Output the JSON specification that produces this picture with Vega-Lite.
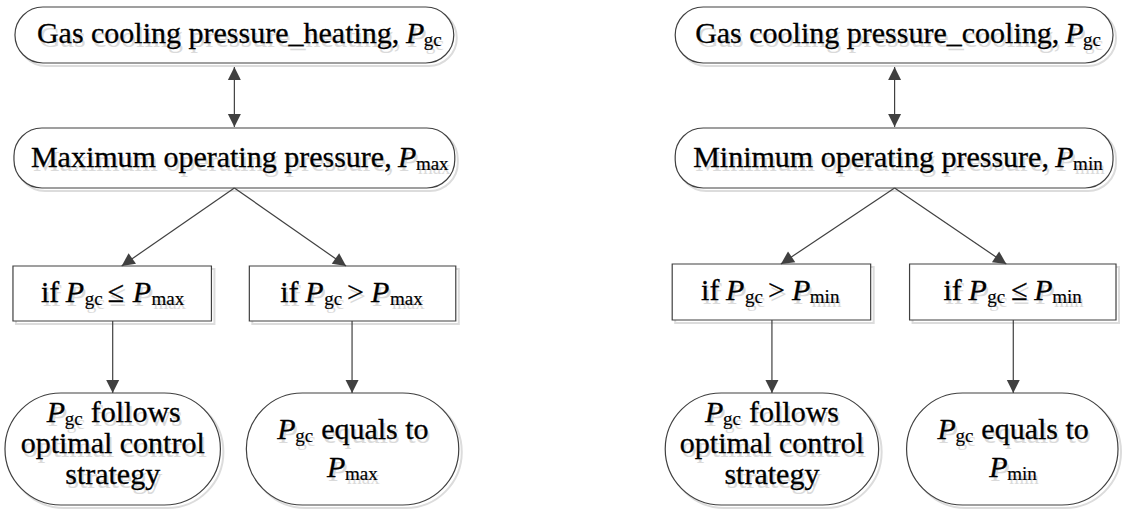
{
  "$schema": "https://vega.github.io/schema/vega-lite/v6.json",
  "width": 1122,
  "height": 509,
  "padding": 0,
  "autosize": {"type": "fit", "contains": "padding"},
  "background": "white",
  "config": {"view": {"stroke": null}},
  "datasets": {
    "shapes": [
      {"k": "pill", "x": 15, "x2": 455, "y": 7, "y2": 63},
      {"k": "pill", "x": 14, "x2": 456, "y": 128, "y2": 188},
      {"k": "box", "x": 13, "x2": 212, "y": 266, "y2": 321},
      {"k": "box", "x": 250, "x2": 457, "y": 266, "y2": 321},
      {"k": "stad", "x": 5, "x2": 221, "y": 393, "y2": 505},
      {"k": "stad", "x": 247, "x2": 460, "y": 393, "y2": 505},
      {"k": "pill", "x": 677, "x2": 1116, "y": 7, "y2": 63},
      {"k": "pill", "x": 677, "x2": 1116, "y": 128, "y2": 188},
      {"k": "box", "x": 674, "x2": 873, "y": 264, "y2": 320},
      {"k": "box", "x": 912, "x2": 1119, "y": 264, "y2": 320},
      {"k": "stad", "x": 667, "x2": 881, "y": 393, "y2": 505},
      {"k": "stad", "x": 909, "x2": 1121, "y": 393, "y2": 505}
    ],
    "links": [
      {"x": 235, "y": 67, "x2": 235, "y2": 127},
      {"x": 235, "y": 188, "x2": 122, "y2": 266},
      {"x": 235, "y": 188, "x2": 347, "y2": 266},
      {"x": 113, "y": 321, "x2": 113, "y2": 393},
      {"x": 353, "y": 321, "x2": 353, "y2": 393},
      {"x": 897, "y": 67, "x2": 897, "y2": 127},
      {"x": 897, "y": 188, "x2": 783, "y2": 264},
      {"x": 897, "y": 188, "x2": 1009, "y2": 264},
      {"x": 774, "y": 320, "x2": 774, "y2": 393},
      {"x": 1016, "y": 320, "x2": 1016, "y2": 393}
    ],
    "heads": [
      {"x": 235, "y": 67, "a": 0},
      {"x": 235, "y": 127, "a": 180},
      {"x": 122, "y": 266, "a": 235},
      {"x": 347, "y": 266, "a": 125},
      {"x": 113, "y": 393, "a": 180},
      {"x": 353, "y": 393, "a": 180},
      {"x": 897, "y": 67, "a": 0},
      {"x": 897, "y": 127, "a": 180},
      {"x": 783, "y": 264, "a": 236},
      {"x": 1009, "y": 264, "a": 124},
      {"x": 774, "y": 393, "a": 180},
      {"x": 1016, "y": 393, "a": 180}
    ],
    "labels": [
      {"k": "n", "x": 37, "y": 43, "t": "Gas cooling pressure_heating,"},
      {"k": "i", "x": 407, "y": 43, "t": "P"},
      {"k": "s", "x": 425, "y": 43, "t": "gc"},
      {"k": "n", "x": 31, "y": 167, "t": "Maximum operating pressure,"},
      {"k": "i", "x": 399, "y": 167, "t": "P"},
      {"k": "s", "x": 417, "y": 167, "t": "max"},
      {"k": "n", "x": 41, "y": 302, "t": "if"},
      {"k": "i", "x": 66, "y": 302, "t": "P"},
      {"k": "s", "x": 85, "y": 302, "t": "gc"},
      {"k": "n", "x": 108, "y": 302, "t": "≤"},
      {"k": "i", "x": 133, "y": 302, "t": "P"},
      {"k": "s", "x": 152, "y": 302, "t": "max"},
      {"k": "n", "x": 281, "y": 302, "t": "if"},
      {"k": "i", "x": 306, "y": 302, "t": "P"},
      {"k": "s", "x": 325, "y": 302, "t": "gc"},
      {"k": "n", "x": 348, "y": 302, "t": ">"},
      {"k": "i", "x": 372, "y": 302, "t": "P"},
      {"k": "s", "x": 391, "y": 302, "t": "max"},
      {"k": "i", "x": 47, "y": 422, "t": "P"},
      {"k": "s", "x": 65, "y": 422, "t": "gc"},
      {"k": "n", "x": 91, "y": 422, "t": "follows"},
      {"k": "c", "x": 113, "y": 453, "t": "optimal control"},
      {"k": "c", "x": 113, "y": 484, "t": "strategy"},
      {"k": "i", "x": 278, "y": 439, "t": "P"},
      {"k": "s", "x": 296, "y": 439, "t": "gc"},
      {"k": "n", "x": 322, "y": 439, "t": "equals to"},
      {"k": "i", "x": 328, "y": 477, "t": "P"},
      {"k": "s", "x": 346, "y": 477, "t": "max"},
      {"k": "n", "x": 697, "y": 43, "t": "Gas cooling pressure_cooling,"},
      {"k": "i", "x": 1068, "y": 43, "t": "P"},
      {"k": "s", "x": 1086, "y": 43, "t": "gc"},
      {"k": "n", "x": 695, "y": 167, "t": "Minimum operating pressure,"},
      {"k": "i", "x": 1058, "y": 167, "t": "P"},
      {"k": "s", "x": 1076, "y": 167, "t": "min"},
      {"k": "n", "x": 703, "y": 300, "t": "if"},
      {"k": "i", "x": 728, "y": 300, "t": "P"},
      {"k": "s", "x": 747, "y": 300, "t": "gc"},
      {"k": "n", "x": 770, "y": 300, "t": ">"},
      {"k": "i", "x": 794, "y": 300, "t": "P"},
      {"k": "s", "x": 812, "y": 300, "t": "min"},
      {"k": "n", "x": 946, "y": 300, "t": "if"},
      {"k": "i", "x": 971, "y": 300, "t": "P"},
      {"k": "s", "x": 990, "y": 300, "t": "gc"},
      {"k": "n", "x": 1014, "y": 300, "t": "≤"},
      {"k": "i", "x": 1037, "y": 300, "t": "P"},
      {"k": "s", "x": 1055, "y": 300, "t": "min"},
      {"k": "i", "x": 707, "y": 422, "t": "P"},
      {"k": "s", "x": 725, "y": 422, "t": "gc"},
      {"k": "n", "x": 751, "y": 422, "t": "follows"},
      {"k": "c", "x": 774, "y": 453, "t": "optimal control"},
      {"k": "c", "x": 774, "y": 484, "t": "strategy"},
      {"k": "i", "x": 940, "y": 439, "t": "P"},
      {"k": "s", "x": 958, "y": 439, "t": "gc"},
      {"k": "n", "x": 984, "y": 439, "t": "equals to"},
      {"k": "i", "x": 992, "y": 477, "t": "P"},
      {"k": "s", "x": 1010, "y": 477, "t": "min"}
    ]
  },
  "encoding": {
    "x": {"field": "x", "type": "quantitative", "scale": {"domain": [0, 1122], "nice": false, "zero": false}, "axis": null},
    "y": {"field": "y", "type": "quantitative", "scale": {"domain": [0, 509], "reverse": true, "nice": false, "zero": false}, "axis": null}
  },
  "layer": [
    {
      "data": {"name": "shapes"},
      "transform": [{"filter": "datum.k == 'box'"}],
      "mark": {"type": "rect", "fill": "white", "stroke": "#dcdcdc", "strokeWidth": 2, "xOffset": 3, "yOffset": 3, "x2Offset": 3, "y2Offset": 3},
      "encoding": {"x2": {"field": "x2"}, "y2": {"field": "y2"}}
    },
    {
      "data": {"name": "shapes"},
      "transform": [{"filter": "datum.k == 'pill'"}],
      "mark": {"type": "rect", "fill": "white", "stroke": "#dcdcdc", "strokeWidth": 2, "cornerRadius": 28, "xOffset": 3, "yOffset": 3, "x2Offset": 3, "y2Offset": 3},
      "encoding": {"x2": {"field": "x2"}, "y2": {"field": "y2"}}
    },
    {
      "data": {"name": "shapes"},
      "transform": [{"filter": "datum.k == 'stad'"}],
      "mark": {"type": "rect", "fill": "white", "stroke": "#dcdcdc", "strokeWidth": 2, "cornerRadius": 56, "xOffset": 3, "yOffset": 3, "x2Offset": 3, "y2Offset": 3},
      "encoding": {"x2": {"field": "x2"}, "y2": {"field": "y2"}}
    },
    {
      "data": {"name": "shapes"},
      "transform": [{"filter": "datum.k == 'box'"}],
      "mark": {"type": "rect", "fill": "white", "stroke": "#404040", "strokeWidth": 1.2},
      "encoding": {"x2": {"field": "x2"}, "y2": {"field": "y2"}}
    },
    {
      "data": {"name": "shapes"},
      "transform": [{"filter": "datum.k == 'pill'"}],
      "mark": {"type": "rect", "fill": "white", "stroke": "#404040", "strokeWidth": 1.2, "cornerRadius": 28},
      "encoding": {"x2": {"field": "x2"}, "y2": {"field": "y2"}}
    },
    {
      "data": {"name": "shapes"},
      "transform": [{"filter": "datum.k == 'stad'"}],
      "mark": {"type": "rect", "fill": "white", "stroke": "#404040", "strokeWidth": 1.2, "cornerRadius": 56},
      "encoding": {"x2": {"field": "x2"}, "y2": {"field": "y2"}}
    },
    {
      "data": {"name": "links"},
      "mark": {"type": "rule", "stroke": "#404040", "strokeWidth": 1.2},
      "encoding": {"x2": {"field": "x2"}, "y2": {"field": "y2"}}
    },
    {
      "data": {"name": "heads"},
      "mark": {"type": "point", "shape": "M0,0L-0.54,1.08L0.54,1.08Z", "size": 576, "filled": true, "fill": "#404040", "strokeWidth": 0, "opacity": 1},
      "encoding": {"angle": {"field": "a", "type": "quantitative", "scale": null}}
    },
    {
      "data": {"name": "labels"},
      "transform": [{"filter": "datum.k == 'n'"}],
      "mark": {"type": "text", "align": "left", "baseline": "alphabetic", "font": "Liberation Serif", "fontSize": 30, "color": "#dadada", "dx": 2, "dy": 4},
      "encoding": {"text": {"field": "t"}}
    },
    {
      "data": {"name": "labels"},
      "transform": [{"filter": "datum.k == 'c'"}],
      "mark": {"type": "text", "align": "center", "baseline": "alphabetic", "font": "Liberation Serif", "fontSize": 30, "color": "#dadada", "dx": 2, "dy": 4},
      "encoding": {"text": {"field": "t"}}
    },
    {
      "data": {"name": "labels"},
      "transform": [{"filter": "datum.k == 'i'"}],
      "mark": {"type": "text", "align": "left", "baseline": "alphabetic", "font": "Liberation Serif", "fontStyle": "italic", "fontSize": 30, "color": "#dadada", "dx": 2, "dy": 4},
      "encoding": {"text": {"field": "t"}}
    },
    {
      "data": {"name": "labels"},
      "transform": [{"filter": "datum.k == 's'"}],
      "mark": {"type": "text", "align": "left", "baseline": "alphabetic", "font": "Liberation Serif", "fontSize": 19, "color": "#dadada", "dx": 2, "dy": 7},
      "encoding": {"text": {"field": "t"}}
    },
    {
      "data": {"name": "labels"},
      "transform": [{"filter": "datum.k == 'n'"}],
      "mark": {"type": "text", "align": "left", "baseline": "alphabetic", "font": "Liberation Serif", "fontSize": 30, "fill": "black", "stroke": "black", "strokeWidth": 0.3},
      "encoding": {"text": {"field": "t"}}
    },
    {
      "data": {"name": "labels"},
      "transform": [{"filter": "datum.k == 'c'"}],
      "mark": {"type": "text", "align": "center", "baseline": "alphabetic", "font": "Liberation Serif", "fontSize": 30, "fill": "black", "stroke": "black", "strokeWidth": 0.3},
      "encoding": {"text": {"field": "t"}}
    },
    {
      "data": {"name": "labels"},
      "transform": [{"filter": "datum.k == 'i'"}],
      "mark": {"type": "text", "align": "left", "baseline": "alphabetic", "font": "Liberation Serif", "fontStyle": "italic", "fontSize": 30, "fill": "black", "stroke": "black", "strokeWidth": 0.3},
      "encoding": {"text": {"field": "t"}}
    },
    {
      "data": {"name": "labels"},
      "transform": [{"filter": "datum.k == 's'"}],
      "mark": {"type": "text", "align": "left", "baseline": "alphabetic", "font": "Liberation Serif", "fontSize": 19, "fill": "black", "stroke": "black", "strokeWidth": 0.2, "dy": 3},
      "encoding": {"text": {"field": "t"}}
    }
  ]
}
